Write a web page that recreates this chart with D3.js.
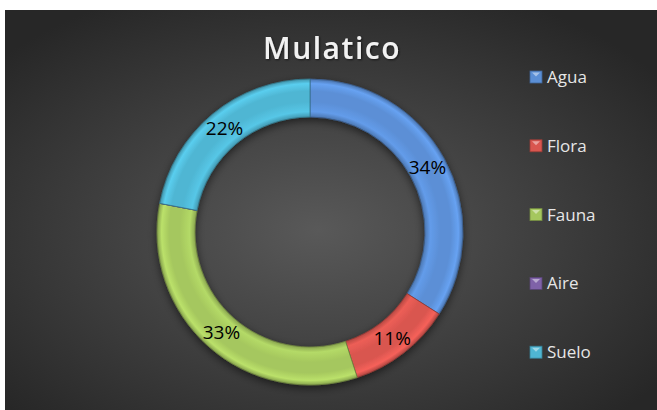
<!DOCTYPE html>
<html>
<head>
<meta charset="utf-8">
<script src="https://cdn.jsdelivr.net/npm/d3@7"></script>
<style>
  body { margin: 0; background: #fff; }
  text { font-family: "Open Sans", sans-serif; }
</style>
</head>
<body>
<div id="chart"></div>
<script>
var categories = ['Agua', 'Flora', 'Fauna', 'Aire', 'Suelo'];
var values = [34, 11, 33, 0, 22];
var labels = ['34%', '11%', '33%', '', '22%'];
var colors = ['#5b8fd6', '#d9564f', '#a5c75e', '#7f62a8', '#4fb6d3'];

var width = 657;
var height = 410;

var svg = d3.select('#chart')
    .append('svg')
    .attr('width', width)
    .attr('height', height);

var defs = svg.append('defs');

var bg = defs.append('radialGradient')
    .attr('id', 'bg')
    .attr('cx', '48%').attr('cy', '55%').attr('r', '65%');
bg.append('stop').attr('offset', '0%').attr('stop-color', '#595959');
bg.append('stop').attr('offset', '100%').attr('stop-color', '#272727');

svg.append('rect')
    .attr('x', 5).attr('y', 10)
    .attr('width', width - 5).attr('height', height - 10)
    .attr('fill', 'url(#bg)');

var shadow = defs.append('filter').attr('id', 'shadow')
    .attr('x', '-20%').attr('y', '-20%').attr('width', '140%').attr('height', '140%');
shadow.append('feDropShadow')
    .attr('dx', 0).attr('dy', 3).attr('stdDeviation', 4)
    .attr('flood-color', '#000').attr('flood-opacity', 0.55);

var tshadow = defs.append('filter').attr('id', 'tshadow');
tshadow.append('feDropShadow')
    .attr('dx', 1).attr('dy', 1).attr('stdDeviation', 1)
    .attr('flood-color', '#000').attr('flood-opacity', 0.6);

svg.append('text')
    .attr('x', 332).attr('y', 59)
    .attr('text-anchor', 'middle')
    .attr('fill', '#f2f2f2')
    .attr('font-size', 30)
    .attr('font-weight', 600)
    .attr('letter-spacing', 1.5)
    .attr('filter', 'url(#tshadow)')
    .text('Mulatico');

var cx = 310, cy = 232;
var outer = 153, inner = 115;

var pie = d3.pie().sort(null).value(d => d);
var arc = d3.arc().innerRadius(inner).outerRadius(outer);
var labelArc = d3.arc().innerRadius((inner + outer) / 2).outerRadius((inner + outer) / 2);

// bevel shading per slice (gradient in the chart group's own coordinates)
colors.forEach(function (c, i) {
    var g = defs.append('radialGradient')
        .attr('id', 'bev' + i)
        .attr('gradientUnits', 'userSpaceOnUse')
        .attr('cx', 0).attr('cy', 0).attr('r', outer);
    var base = d3.color(c);
    var f = inner / outer;
    g.append('stop').attr('offset', f).attr('stop-color', base.darker(0.5));
    g.append('stop').attr('offset', f + 0.035).attr('stop-color', base.brighter(0.25));
    g.append('stop').attr('offset', f + 0.1).attr('stop-color', base);
    g.append('stop').attr('offset', 0.92).attr('stop-color', base);
    g.append('stop').attr('offset', 0.97).attr('stop-color', base.brighter(0.35));
    g.append('stop').attr('offset', 1).attr('stop-color', base.darker(0.6));
});

var chart = svg.append('g').attr('transform', `translate(${cx},${cy})`);

chart.append('g')
    .attr('filter', 'url(#shadow)')
    .selectAll('path')
    .data(pie(values))
    .enter()
    .append('path')
    .attr('d', arc)
    .attr('fill', (d, i) => `url(#bev${i})`)
    .attr('stroke', (d, i) => d3.color(colors[i]).darker(1.2))
    .attr('stroke-width', 0.8);

chart.selectAll('.lbl')
    .data(pie(values))
    .enter()
    .append('text')
    .attr('class', 'lbl')
    .attr('transform', d => `translate(${labelArc.centroid(d)})`)
    .attr('text-anchor', 'middle')
    .attr('dy', '0.35em')
    .attr('font-size', 19)
    .attr('fill', '#000')
    .text((d, i) => labels[i]);

var legend = svg.append('g').attr('transform', 'translate(530,77)');
var item = legend.selectAll('g')
    .data(categories)
    .enter()
    .append('g')
    .attr('transform', (d, i) => `translate(0,${i * 68.8})`);

item.append('rect')
    .attr('x', 0).attr('y', -6)
    .attr('width', 12).attr('height', 12)
    .attr('fill', (d, i) => colors[i])
    .attr('stroke', (d, i) => d3.color(colors[i]).darker(1))
    .attr('stroke-width', 0.8);

item.append('path')
    .attr('d', 'M2,-4.5L10,-4.5L6,-0.5Z')
    .attr('fill', '#fff')
    .attr('opacity', 0.45);

item.append('text')
    .attr('x', 17).attr('y', 0)
    .attr('dy', '0.35em')
    .attr('font-size', 17)
    .attr('fill', '#e6e6e6')
    .text(d => d);
</script>
</body>
</html>
